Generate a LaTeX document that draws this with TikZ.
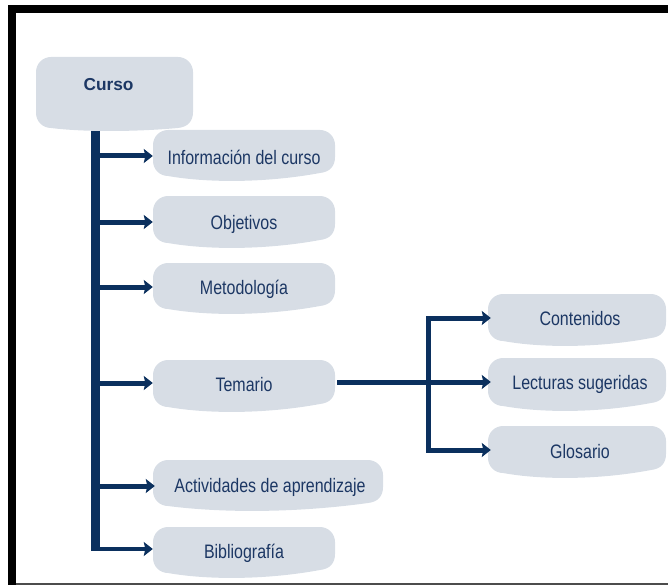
\documentclass[tikz,border=0pt]{standalone}
\usepackage{fontspec}
\setmainfont{Liberation Sans}
\newfontfamily\narrowf{Liberation Sans}[FakeStretch=0.82]
\usetikzlibrary{arrows.meta,calc}
\definecolor{boxfill}{HTML}{D7DDE5}
\definecolor{navytext}{HTML}{1C3764}
\definecolor{navyline}{HTML}{0B305E}
% #1 L, #2 T, #3 R, #4 B (lowest), #5 dip
\newcommand\wshape[5]{%
  \fill[boxfill] (#1,{#4-#5/2-15}) -- (#1,{#2+15}) .. controls (#1,{#2+6.7}) and ({#1+6.7},#2) .. ({#1+15},#2)
   -- ({#3-15},#2) .. controls ({#3-6.7},#2) and (#3,{#2+6.7}) .. (#3,{#2+15})
   -- (#3,{#4-#5-15}) .. controls (#3,{#4-#5-6}) and ({#3-5},{#4-#5}) .. ({#3-15},{#4-#5+1})
   .. controls ({#1+0.62*(#3-#1)},{#4+3}) and ({#1+0.3*(#3-#1)},{#4+3}) .. ({#1+15},{#4-#5/2})
   .. controls ({#1+6.7},{#4-#5/2}) and (#1,{#4-#5/2-6.7}) .. (#1,{#4-#5/2-15}) -- cycle;}
\tikzset{
  lbl/.style={inner sep=0pt, text height=14bp, text depth=0pt,
    font=\narrowf\fontsize{19.5bp}{22bp}\selectfont, text=navytext},
  trunk/.style={draw=navyline, line width=9bp},
  branch/.style={draw=navyline, line width=5bp, -{Stealth[length=9bp,width=14bp,inset=1.5bp]}},
  plain/.style={draw=navyline, line width=5bp},
}
\begin{document}
\begin{tikzpicture}[x=1bp,y=-1bp]
\useasboundingbox (0,0) rectangle (668,585);
% frame
\fill[black] (8,5) rectangle (668,13);
\fill[black] (8,5) rectangle (16,585);
\draw[black!70, line width=1.5bp] (16,584) -- (668,584);
% box shapes
\wshape{36}{57}{193}{129}{2}
\wshape{153}{130}{335}{180}{8}
\wshape{153}{196}{335}{247}{8}
\wshape{153}{263}{335}{313}{8}
\wshape{153}{360}{335}{411}{8}
\wshape{153}{460}{383}{510}{8}
\wshape{153}{527}{335}{577}{8}
\wshape{488}{294}{666}{345}{8}
\wshape{488}{358}{666}{410}{8}
\wshape{488}{426}{666}{477}{8}
% nodes
\node[inner sep=0pt, minimum width=157bp, minimum height=72bp] (curso) at (114.5,93) {};
\node[inner sep=0pt, text height=12.4bp, text depth=0pt, text=navytext,
  font=\fontsize{17.3bp}{20bp}\selectfont\bfseries] (cursot) at (108.5,84.5) {Curso};
\node[lbl, minimum width=182bp] (info) at (244,157.5) {Información del curso};
\node[lbl, minimum width=182bp] (obj) at (244,222.5) {Objetivos};
\node[lbl, minimum width=182bp] (met) at (244,287) {Metodología};
\node[lbl, minimum width=182bp] (tem) at (244,384.5) {Temario};
\node[lbl, minimum width=230bp] (act) at (270,485.5) {Actividades de aprendizaje};
\node[lbl, minimum width=182bp] (bib) at (244,551) {Bibliografía};
\node[lbl, minimum width=178bp] (cont) at (580,318.5) {Contenidos};
\node[lbl, minimum width=178bp] (lect) at (580,382) {Lecturas sugeridas};
\node[lbl, minimum width=178bp] (glos) at (580,451.5) {Glosario};
% trunk
\coordinate (ttop) at (95.5,131);
\coordinate (tbot) at (95.5,547);
\draw[trunk] (ttop) -- (tbot);
\coordinate (a1) at (95.5,156);
\coordinate (a2) at (95.5,222);
\coordinate (a3) at (95.5,287);
\coordinate (a4) at (95.5,383);
\coordinate (a5) at (95.5,486);
\coordinate (a6) at (91,549);
\draw[branch] (a1) -- (a1 -| info.west);
\draw[branch] (a2) -- (a2 -| obj.west);
\draw[branch] (a3) -- (a3 -| met.west);
\draw[branch] (a4) -- (a4 -| tem.west);
\draw[branch] (a5) -- (a5 -| act.west);
\draw[branch, line width=4.5bp] (a6) -- (a6 -| bib.west);
% temario branch
\coordinate (tj) at (428,382);
\coordinate (vtop) at (428,318);
\coordinate (vbot) at (428,450);
\draw[plain] ([xshift=2bp]tem.east |- tj) -- (tj);
\draw[plain, line join=miter, {Stealth[length=9bp,width=14bp,inset=1.5bp]}-{Stealth[length=9bp,width=14bp,inset=1.5bp]}]
  (vtop -| cont.west) -- (vtop) -- (vbot) -- (vbot -| glos.west);
\draw[branch] (tj) -- (tj -| lect.west);
\end{tikzpicture}
\end{document}
